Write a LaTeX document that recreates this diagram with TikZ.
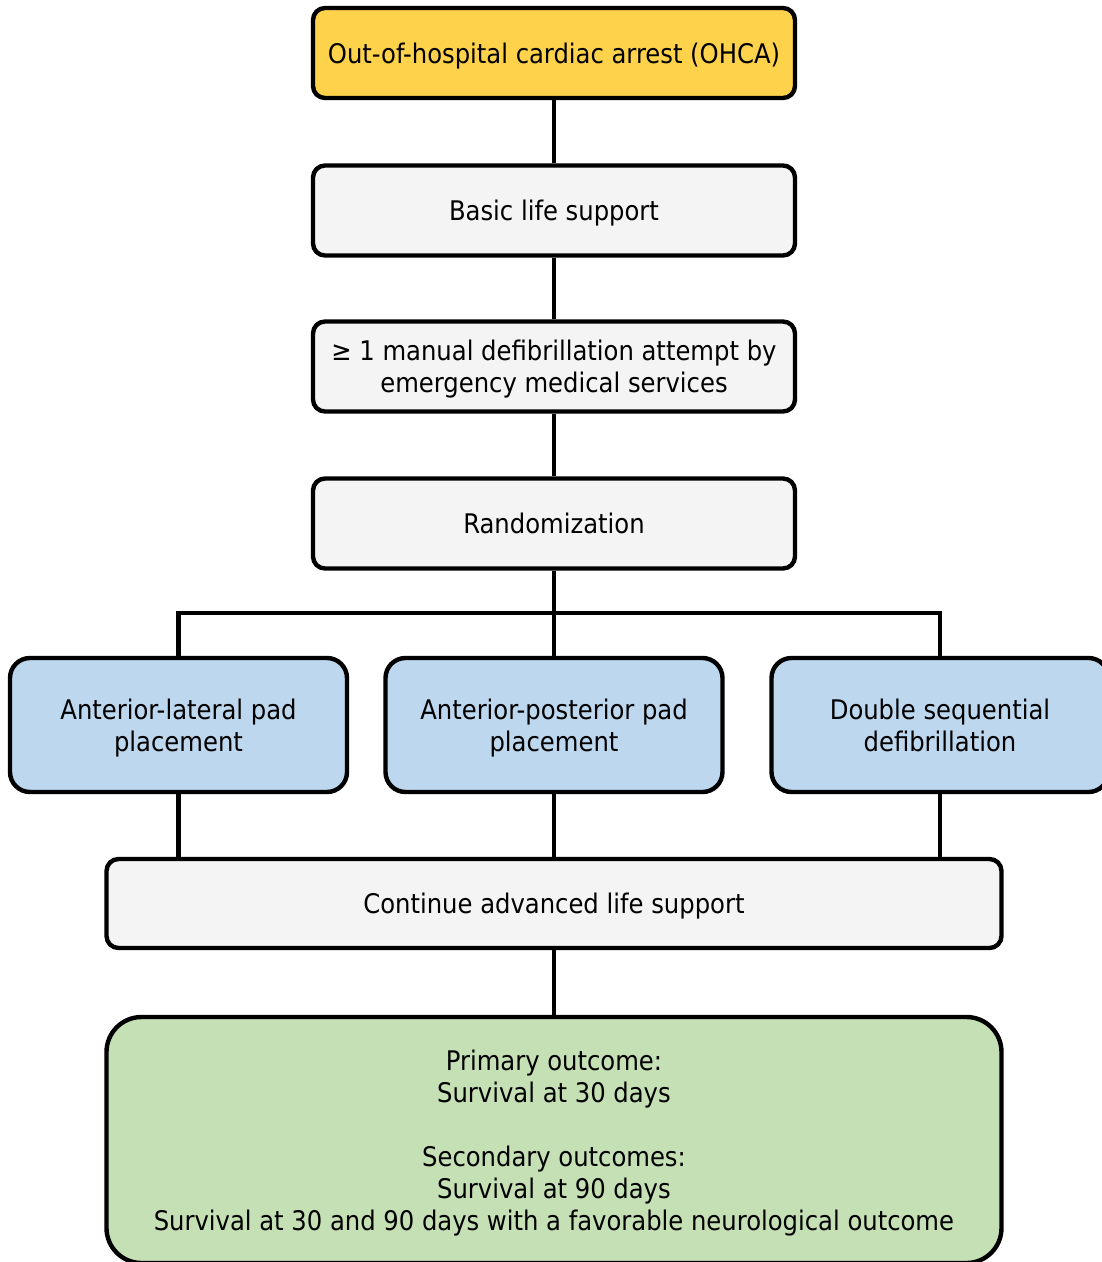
\documentclass[tikz,border=0pt]{standalone}
\usepackage{fontspec}
\setmainfont{DejaVu Sans Condensed}
\definecolor{ohcayellow}{RGB}{255, 210, 76}
\definecolor{stepgray}{RGB}{244, 244, 244}
\definecolor{armblue}{RGB}{189, 215, 238}
\definecolor{outcomegreen}{RGB}{197, 224, 180}
\usepackage{tikz}

\begin{document}
\begin{tikzpicture}[
    box/.style={draw=black, line width=0.11cm, rounded corners=0.3cm, align=center,
        font=\fontsize{19.2pt}{22.8pt}\selectfont, inner sep=0pt, text depth=0pt},
    stepbox/.style={box, fill=stepgray, minimum width=12.05cm, minimum height=2.25cm},
    armbox/.style={box, fill=armblue, rounded corners=0.5cm, minimum width=8.425cm, minimum height=3.35cm},
    link/.style={line width=0.11cm}
]
    \useasboundingbox (0,0) rectangle (27.55,-31.55);

    % Enrolment steps
    \node[stepbox, fill=ohcayellow] (ohca) at (13.85,-1.325) {Out-of-hospital cardiac arrest (OHCA)};
    \node[stepbox] (bls) at (13.85,-5.2625) {Basic life support};
    \node[stepbox] (defib) at (13.85,-9.1625) {≥ 1 manual defibrillation attempt by\\emergency medical services};
    \node[stepbox] (rand) at (13.85,-13.0875) {Randomization};

    % Study arms
    \node[armbox] (antlat) at (4.4625,-18.125) {Anterior-lateral pad\\placement};
    \node[armbox] (antpost) at (13.85,-18.125) {Anterior-posterior pad\\placement};
    \node[armbox] (dsd) at (23.5,-18.125) {Double sequential\\defibrillation};

    % After the arms
    \node[stepbox, minimum width=22.375cm, minimum height=2.225cm] (als) at (13.85,-22.5875) {Continue advanced life support};
    \node[box, fill=outcomegreen, rounded corners=0.875cm, minimum width=22.375cm, minimum height=6.15cm] (outcome) at (13.85,-28.5)
        {Primary outcome:\\Survival at 30 days\\[22.8pt]Secondary outcomes:\\Survival at 90 days\\Survival at 30 and 90 days with a favorable neurological outcome};

    % Connectors
    \coordinate (split) at (13.85,-15.325);
    \draw[link] (ohca) -- (bls);
    \draw[link] (bls) -- (defib);
    \draw[link] (defib) -- (rand);
    \draw[link] (rand) -- (antpost);
    \draw[link] (split) -| (antlat.north);
    \draw[link] (split) -| (dsd.north);
    \draw[link] (antlat.south) -- (antlat.south |- als.north);
    \draw[link] (antpost) -- (als);
    \draw[link] (dsd.south) -- (dsd.south |- als.north);
    \draw[link] (als) -- (outcome);
\end{tikzpicture}
\end{document}
